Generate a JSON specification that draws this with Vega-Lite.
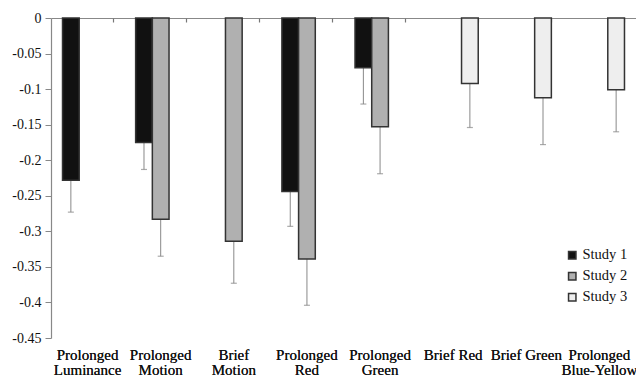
{
  "$schema": "https://vega.github.io/schema/vega-lite/v6.json",
  "width": 585,
  "height": 320,
  "autosize": {"type": "none"},
  "padding": {"left": 51, "top": 18, "right": 0, "bottom": 41},
  "background": "white",
  "config": {
    "view": {"stroke": null},
    "font": "Liberation Serif, Times New Roman, serif",
    "axis": {"labelFont": "Liberation Serif, Times New Roman, serif"},
    "legend": {"labelFont": "Liberation Serif, Times New Roman, serif"}
  },
  "data": {
    "values": [
      {"condition": "Prolonged Luminance", "study": "Study 1", "value": -0.228, "lower": -0.273},
      {"condition": "Prolonged Motion", "study": "Study 1", "value": -0.175, "lower": -0.213},
      {"condition": "Prolonged Motion", "study": "Study 2", "value": -0.283, "lower": -0.335},
      {"condition": "Brief Motion", "study": "Study 2", "value": -0.314, "lower": -0.373},
      {"condition": "Prolonged Red", "study": "Study 1", "value": -0.244, "lower": -0.293},
      {"condition": "Prolonged Red", "study": "Study 2", "value": -0.339, "lower": -0.404},
      {"condition": "Prolonged Green", "study": "Study 1", "value": -0.07, "lower": -0.121},
      {"condition": "Prolonged Green", "study": "Study 2", "value": -0.153, "lower": -0.219},
      {"condition": "Brief Red", "study": "Study 3", "value": -0.092, "lower": -0.154},
      {"condition": "Brief Green", "study": "Study 3", "value": -0.112, "lower": -0.178},
      {"condition": "Prolonged Blue-Yellow", "study": "Study 3", "value": -0.101, "lower": -0.16}
    ]
  },
  "encoding": {
    "x": {
      "field": "condition", "type": "nominal",
      "sort": ["Prolonged Luminance", "Prolonged Motion", "Brief Motion", "Prolonged Red", "Prolonged Green", "Brief Red", "Brief Green", "Prolonged Blue-Yellow"],
      "scale": {"paddingInner": 0.315, "paddingOuter": 0.1575},
      "axis": {"orient": "bottom", "title": null, "domain": false, "ticks": false, "labelAngle": 0, "labelPadding": 9, "labelFontSize": 15, "labelLineHeight": 15, "labelColor": "#111", "labelOverlap": false,
        "labelExpr": "(datum.label == 'Brief Red' || datum.label == 'Brief Green') ? datum.label : split(datum.label, ' ')"}
    },
    "xOffset": {"field": "study", "type": "nominal", "scale": {"domain": ["Study 1", "Study 2", "Study 3"], "paddingInner": 0, "paddingOuter": 0}}
  },
  "layer": [
    {
      "mark": {"type": "rule", "color": "#888", "strokeWidth": 1},
      "encoding": {
        "x": {
          "field": "condition", "type": "nominal",
          "sort": ["Prolonged Luminance", "Prolonged Motion", "Brief Motion", "Prolonged Red", "Prolonged Green", "Brief Red", "Brief Green", "Prolonged Blue-Yellow"],
          "axis": {"orient": "top", "labels": false, "title": null, "domain": false, "ticks": true, "tickBand": "extent", "tickSize": 4, "offset": -4, "tickWidth": 1.2, "tickColor": "#777"}
        },
        "y": {
          "field": "value", "type": "quantitative",
          "scale": {"domain": [-0.45, 0], "nice": false},
          "axis": {"title": null, "grid": true, "gridColor": {"condition": {"test": "datum.value === 0", "value": "#888"}, "value": "transparent"}, "gridWidth": 1.2, "values": [0, -0.05, -0.1, -0.15, -0.2, -0.25, -0.3, -0.35, -0.4, -0.45], "labelExpr": "'' + datum.value", "labelOverlap": false, "labelFlush": false, "domainColor": "#888", "domainWidth": 1.2, "tickColor": "#888", "tickSize": 6, "labelPadding": 4, "labelFontSize": 14, "labelColor": "#111"}
        },
        "y2": {"field": "lower"}
      }
    },
    {
      "mark": {"type": "tick", "color": "#888", "size": 6, "thickness": 1.2},
      "encoding": {
        "y": {
          "field": "lower", "type": "quantitative",
          "axis": {"title": null, "grid": true, "gridColor": {"condition": {"test": "datum.value === 0", "value": "#888"}, "value": "transparent"}, "gridWidth": 1.2, "values": [0, -0.05, -0.1, -0.15, -0.2, -0.25, -0.3, -0.35, -0.4, -0.45], "labelExpr": "'' + datum.value", "labelOverlap": false, "labelFlush": false, "domainColor": "#888", "domainWidth": 1.2, "tickColor": "#888", "tickSize": 6, "labelPadding": 4, "labelFontSize": 14, "labelColor": "#111"}
        }
      }
    },
    {
      "mark": {"type": "bar", "stroke": "#333", "strokeWidth": 1.5},
      "encoding": {
        "y": {
          "field": "value", "type": "quantitative",
          "axis": {"title": null, "grid": true, "gridColor": {"condition": {"test": "datum.value === 0", "value": "#888"}, "value": "transparent"}, "gridWidth": 1.2, "values": [0, -0.05, -0.1, -0.15, -0.2, -0.25, -0.3, -0.35, -0.4, -0.45], "labelExpr": "'' + datum.value", "labelOverlap": false, "labelFlush": false, "domainColor": "#888", "domainWidth": 1.2, "tickColor": "#888", "tickSize": 6, "labelPadding": 4, "labelFontSize": 14, "labelColor": "#111"}
        },
        "fill": {
          "field": "study", "type": "nominal",
          "scale": {"domain": ["Study 1", "Study 2", "Study 3"], "range": ["#111111", "#b0b0b0", "#eeeeee"]},
          "legend": {"orient": "none", "legendX": 514, "legendY": 230, "title": null, "symbolType": "square", "symbolSize": 55, "symbolStrokeColor": "#333", "symbolStrokeWidth": 1.5, "labelFontSize": 14.5, "labelColor": "#111", "rowPadding": 6, "labelOffset": 3}
        }
      }
    }
  ]
}
